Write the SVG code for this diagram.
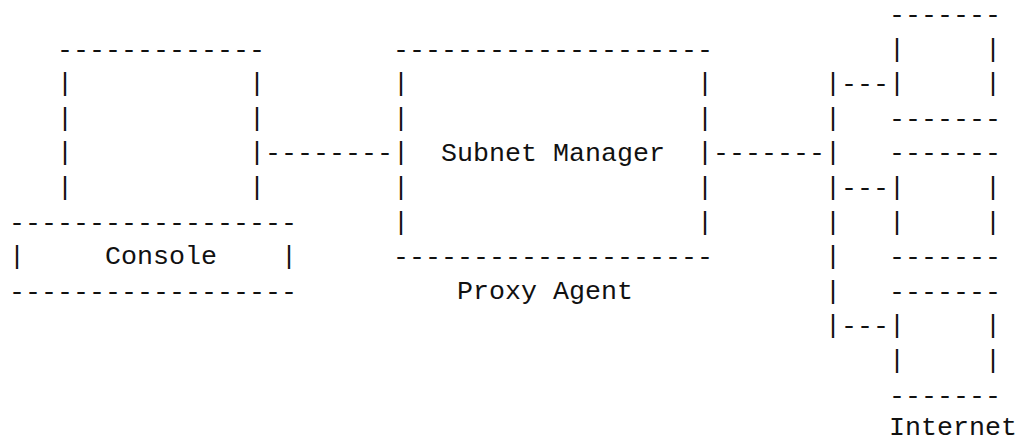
<svg xmlns="http://www.w3.org/2000/svg" width="1019" height="439" viewBox="0 0 1019 439">
<style>
text { font-family: "Liberation Mono", "Courier New", monospace; font-size: 26.67px; fill: #111; white-space: pre; }
</style>
<rect width="1019" height="439" fill="#fff"/>
<g id="console">
<text x="57" y="57.6">-------------</text>
<text x="57" y="91.2">|</text><text x="249" y="91.2">|</text>
<text x="57" y="125.8">|</text><text x="249" y="125.8">|</text>
<text x="57" y="160.4">|</text><text x="249" y="160.4">|</text>
<text x="57" y="195">|</text><text x="249" y="195">|</text>
<text x="9" y="230.6">------------------</text>
<text x="9" y="264.2">|</text><text x="105" y="264.2">Console</text><text x="281" y="264.2">|</text>
<text x="9" y="299.8">------------------</text>
</g>
<g id="proxy-agent">
<text x="393" y="57.6">--------------------</text>
<text x="393" y="91.2">|</text><text x="697" y="91.2">|</text>
<text x="393" y="125.8">|</text><text x="697" y="125.8">|</text>
<text x="393" y="160.4">|</text><text x="441" y="161">Subnet Manager</text><text x="697" y="160.4">|</text>
<text x="393" y="195">|</text><text x="697" y="195">|</text>
<text x="393" y="229.6">|</text><text x="697" y="229.6">|</text>
<text x="393" y="265.2">--------------------</text>
<text x="457" y="298.8">Proxy Agent</text>
</g>
<g id="internet-1">
<text x="889" y="23">-------</text>
<text x="889" y="56.6">|</text><text x="985" y="56.6">|</text>
<text x="889" y="91.2">|</text><text x="985" y="91.2">|</text>
<text x="889" y="126.8">-------</text>
</g>
<g id="internet-2">
<text x="889" y="161.4">-------</text>
<text x="889" y="195">|</text><text x="985" y="195">|</text>
<text x="889" y="229.6">|</text><text x="985" y="229.6">|</text>
<text x="889" y="265.2">-------</text>
</g>
<g id="internet-3">
<text x="889" y="299.8">-------</text>
<text x="889" y="333.4">|</text><text x="985" y="333.4">|</text>
<text x="889" y="368">|</text><text x="985" y="368">|</text>
<text x="889" y="403.6">-------</text>
<text x="889" y="434.5">Internet</text>
</g>
<g id="connectors">
<text x="265" y="161.4">--------</text>
<text x="713" y="161.4">-------</text>
<text x="825" y="91.2">|</text><text x="841" y="92.2">---</text>
<text x="825" y="125.8">|</text>
<text x="825" y="160.4">|</text>
<text x="825" y="195">|</text><text x="841" y="196">---</text>
<text x="825" y="229.6">|</text>
<text x="825" y="264.2">|</text>
<text x="825" y="298.8">|</text>
<text x="825" y="333.4">|</text><text x="841" y="334.4">---</text>
</g>
</svg>
